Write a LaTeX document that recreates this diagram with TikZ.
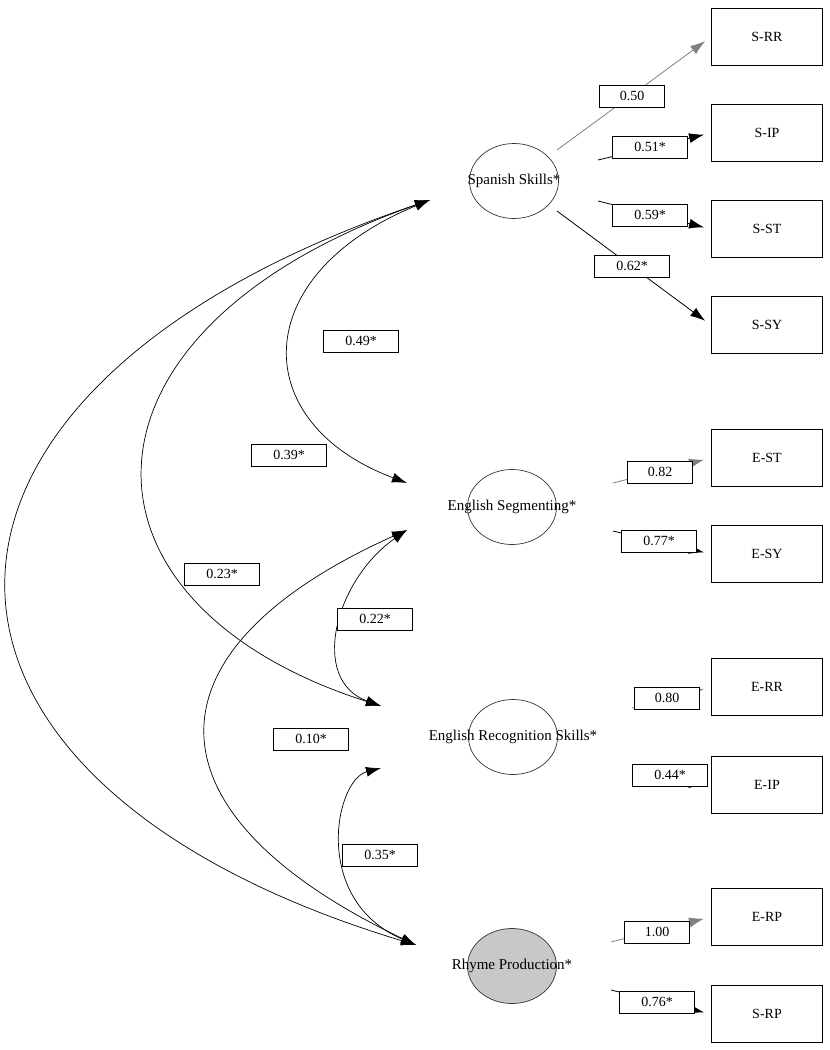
\documentclass[tikz,border=0pt]{standalone}
\usepackage{fontspec}
\setmainfont{Liberation Serif}
\usepackage{tikz}
\usetikzlibrary{positioning, arrows.meta, shapes.geometric}
\definecolor{loadgray}{HTML}{808080}
\definecolor{rhyfill}{HTML}{C8C8C8}

\begin{document}
\begin{tikzpicture}[x=1pt, y=-1pt,
  latent/.style={ellipse, draw=black!80, line width=0.7pt, fill=white,
                 minimum width=89pt, minimum height=75pt, inner sep=0pt},
  indic/.style={rectangle, draw, line width=1.3pt, fill=white,
                minimum width=111pt, minimum height=57pt,
                font=\fontsize{14}{16}\selectfont},
  coef/.style={rectangle, draw, line width=0.8pt, fill=white,
               minimum width=75pt, minimum height=22pt, inner sep=1pt,
               font=\fontsize{14}{16}\selectfont},
  load/.style={-{Latex[length=15pt, width=10pt]}, line width=0.8pt, shorten >=7pt},
  fixload/.style={load, draw=loadgray},
  cov/.style={{Latex[length=15pt, width=10pt]}-{Latex[length=15pt, width=10pt]},
              line width=0.7pt}]
  \useasboundingbox (0,0) rectangle (830,1050);

  % observed measures, right column
  \node[indic] (srr) at (767,37)   {S-RR};
  \node[indic] (sip) at (767,133)  {S-IP};
  \node[indic] (sst) at (767,229)  {S-ST};
  \node[indic] (ssy) at (767,325)  {S-SY};
  \node[indic] (est) at (767,458)  {E-ST};
  \node[indic] (esy) at (767,554)  {E-SY};
  \node[indic] (err) at (767,687)  {E-RR};
  \node[indic] (eip) at (767,785)  {E-IP};
  \node[indic] (erp) at (767,917)  {E-RP};
  \node[indic] (srp) at (767,1014) {S-RP};

  % ends of the correlation arcs (left of each factor)
  \coordinate (spnA) at (430,200);
  \coordinate (segA) at (407,483);
  \coordinate (segB) at (407,530);
  \coordinate (recA) at (381,706);
  \coordinate (recB) at (381,768);
  \coordinate (rhyA) at (416,945);

  \draw[cov] (spnA) .. controls (247,275) and (247,423) .. (segA);
  \draw[cov] (spnA) .. controls (58,330) and (58,603) .. (recA);
  \draw[cov] (spnA) .. controls (-130,390) and (-130,780) .. (rhyA);
  \draw[cov] (segB) .. controls (335,580) and (309,680) .. (recA);
  \draw[cov] (segB) .. controls (139,650) and (139,813) .. (rhyA);
  \draw[cov] (recB) .. controls (335,780) and (311,900) .. (rhyA);

  % loadings: start points of the paths
  \coordinate (ld1) at (557,150);
  \coordinate (ld2) at (598,160);
  \coordinate (ld3) at (598,201);
  \coordinate (ld4) at (557,211);
  \coordinate (ld5) at (613,483);
  \coordinate (ld6) at (613,531);
  \coordinate (ld7) at (632,708);
  \coordinate (ld8) at (640,779);
  \coordinate (ld9) at (611,942);
  \coordinate (ld10) at (611,990);
  \foreach \from/\to/\sty in {ld1/srr/fixload, ld2/sip/load, ld3/sst/load,
      ld4/ssy/load, ld5/est/fixload, ld6/esy/load, ld7/err/fixload,
      ld8/eip/load, ld9/erp/fixload, ld10/srp/load}
    \draw[\sty] (\from) -- (\to.west);

  % estimates
  \node[coef, minimum width=65pt] (c50) at (632,96) {0.50};
  \node[coef] (c51) at (650,147) {0.51*};
  \node[coef] (c59) at (650,215) {0.59*};
  \node[coef] (c62) at (632,266) {0.62*};
  \node[coef, minimum width=65pt] (c82) at (660,472) {0.82};
  \node[coef] (c77) at (659,541) {0.77*};
  \node[coef, minimum width=65pt] (c80) at (667,698) {0.80};
  \node[coef] (c44) at (670,775) {0.44*};
  \node[coef, minimum width=65pt] (c100) at (657,932) {1.00};
  \node[coef] (c76) at (657,1002) {0.76*};
  \node[coef] (c49) at (361,341) {0.49*};
  \node[coef] (c39) at (289,455) {0.39*};
  \node[coef] (c23) at (222,574) {0.23*};
  \node[coef] (c22) at (375,619) {0.22*};
  \node[coef] (c10) at (311,739) {0.10*};
  \node[coef] (c35) at (380,855) {0.35*};

  % latent factors
  \node[latent, label={[font=\fontsize{15}{17}\selectfont]center:Spanish Skills*}]
       (spn) at (514,181) {};
  \node[latent, label={[font=\fontsize{15}{17}\selectfont]center:English Segmenting*}]
       (seg) at (512,507) {};
  \node[latent, label={[font=\fontsize{15}{17}\selectfont]center:English Recognition Skills*}]
       (rec) at (513,737) {};
  \node[latent, fill=rhyfill, label={[font=\fontsize{15}{17}\selectfont]center:Rhyme Production*}]
       (rhy) at (512,966) {};
\end{tikzpicture}
\end{document}
